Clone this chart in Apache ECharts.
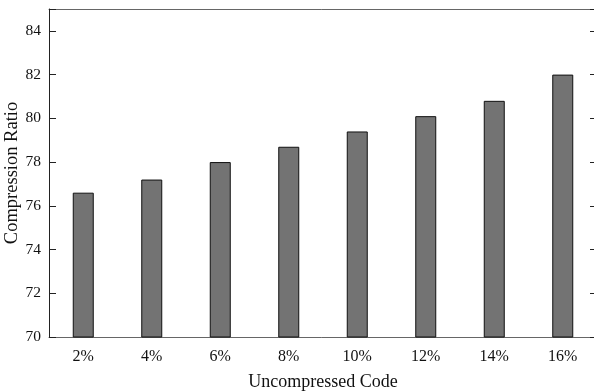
<!DOCTYPE html>
<html><head><meta charset="utf-8">
<script src="https://cdn.jsdelivr.net/npm/echarts@6/dist/echarts.min.js"></script>
<style>html,body{margin:0;padding:0;background:#fff}#c{width:594px;height:391px}</style>
</head><body><div id="c"></div>
<script>
const categories = ['2%','4%','6%','8%','10%','12%','14%','16%'];
const ratios = [76.6, 77.2, 78.0, 78.7, 79.4, 80.1, 80.8, 82.0];
const yTicks = [70, 72, 74, 76, 78, 80, 82, 84];

const font = 'Liberation Serif';
const chart = echarts.init(document.getElementById('c'), null, {renderer:'canvas'});
chart.setOption({
  animation: false,
  grid: {left: 49, top: 9, width: 548, height: 328, containLabel: false, outerBoundsMode: 'none'},
  xAxis: [{
    type: 'category', data: categories, position: 'bottom',
    axisLine: {show: true, lineStyle: {color: '#666', width: 1}},
    axisTick: {show: false},
    axisLabel: {fontFamily: font, fontSize: 16, color: '#111', margin: 12},
    name: 'Uncompressed Code', nameLocation: 'middle', nameGap: 36, nameMoveOverlap: false,
    nameTextStyle: {fontFamily: font, fontSize: 18, color: '#111'}
  },{
    type: 'category', data: categories, position: 'top',
    axisLine: {show: true, lineStyle: {color: '#666', width: 1}},
    axisTick: {show: false}, axisLabel: {show: false}
  }],
  yAxis: [{
    type: 'value', min: 70, max: 85, interval: 2, position: 'left',
    axisLine: {show: true, lineStyle: {color: '#222', width: 1}},
    axisTick: {show: true, inside: true, length: 7, lineStyle: {color: '#222'}},
    axisLabel: {fontFamily: font, fontSize: 15.5, color: '#111', margin: 8,
      formatter: v => yTicks.includes(v) ? String(v) : ''},
    splitLine: {show: false},
    name: 'Compression Ratio', nameLocation: 'middle', nameGap: 27, nameRotate: 90, nameMoveOverlap: false,
    nameTextStyle: {fontFamily: font, fontSize: 18.5, color: '#111'}
  },{
    type: 'value', min: 70, max: 85, interval: 2, position: 'right',
    axisLine: {show: true, lineStyle: {color: '#222', width: 1}},
    axisTick: {show: true, inside: true, length: 7, lineStyle: {color: '#222'}},
    axisLabel: {show: false}, splitLine: {show: false}
  }],
  series: [{
    type: 'bar', data: ratios, barWidth: 21, xAxisIndex: 0, yAxisIndex: 0,
    itemStyle: {color: '#737373', borderColor: '#111', borderWidth: 1}
  }]
});
</script></body></html>
